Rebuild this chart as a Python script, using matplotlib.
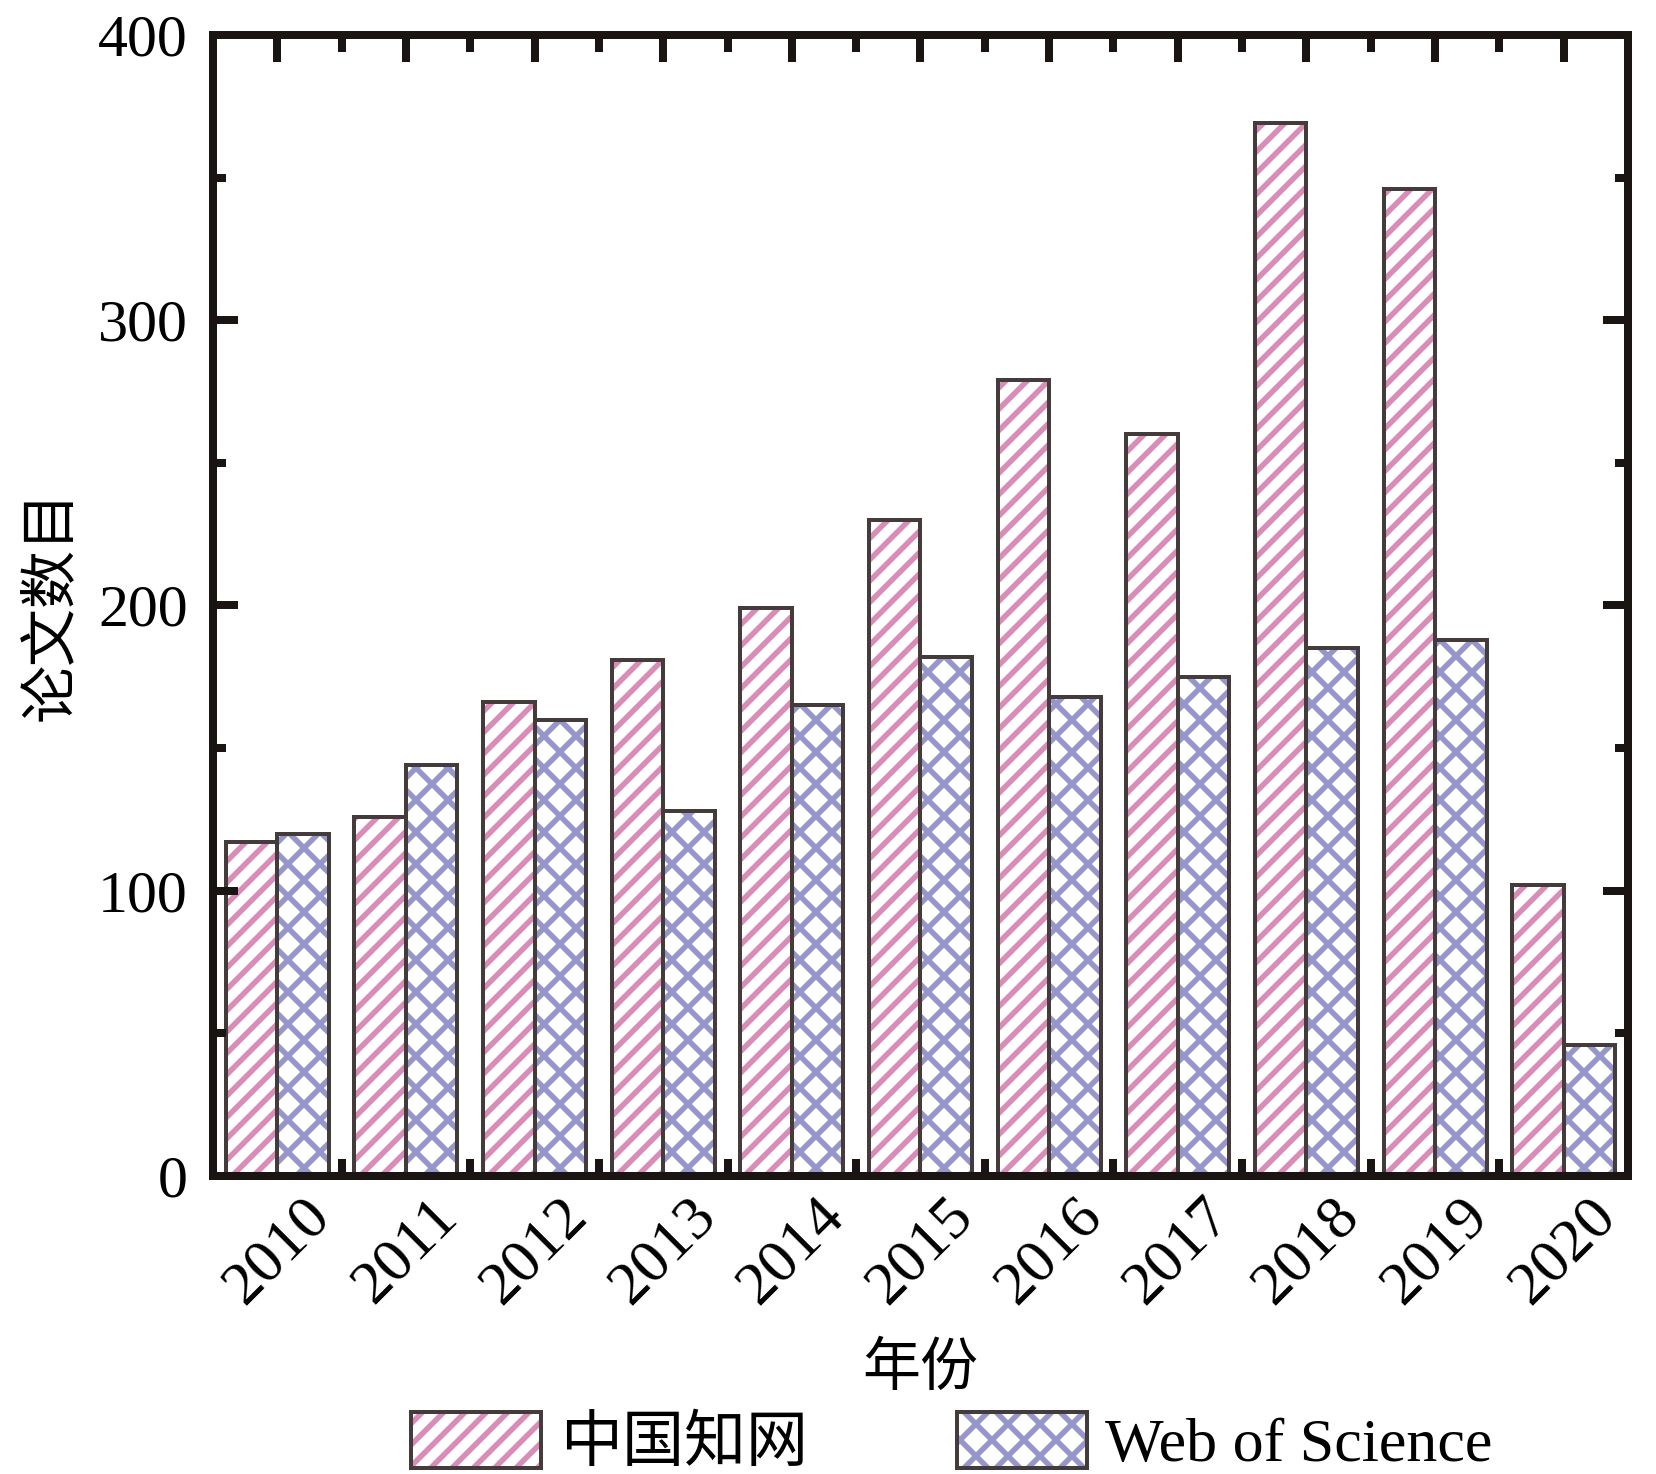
import matplotlib
matplotlib.use('Agg')
import matplotlib.pyplot as plt
import numpy as np
from matplotlib.ticker import FixedLocator, MultipleLocator

years = ['2010', '2011', '2012', '2013', '2014', '2015', '2016', '2017', '2018', '2019', '2020']
cnki = [117, 126, 166, 181, 199, 230, 279, 260, 369, 346, 102]
wos = [120, 144, 160, 128, 165, 182, 168, 175, 185, 188, 46]

serif = ['Liberation Serif', 'Noto Sans CJK SC']
cjk = ['Noto Sans CJK SC', 'DejaVu Sans']

# dpi chosen so the hatch unit (one inch) gives the reference stripe spacing
dpi = 192


def px(n):
    # pixels -> points
    return n * 72.0 / dpi


plt.rcParams['hatch.linewidth'] = px(5.5)

fig = plt.figure(figsize=(1656 / dpi, 1474 / dpi), dpi=dpi)
ax = fig.add_axes([0.1286, 0.2022, 0.8545, 0.7741])

x = np.arange(len(years))
w = 0.4
edge = '#443c3b'

# hatch layer + outline layer (hatch colour follows edgecolor)
p_fill = ax.bar(x - w/2, cnki, w, color='none', edgecolor='#d98cb6', hatch='///', linewidth=0)
p_edge = ax.bar(x - w/2, cnki, w, fill=False, edgecolor=edge, linewidth=px(4))
b_fill = ax.bar(x + w/2, wos, w, color='none', edgecolor='#9696ca', hatch='xx', linewidth=0)
b_edge = ax.bar(x + w/2, wos, w, fill=False, edgecolor=edge, linewidth=px(4))

ax.set_xlim(-0.5, 10.5)
ax.set_ylim(0, 400)

ax.set_xticks(x)
ax.set_xticklabels(years, rotation=45, family=serif, size=px(62))
ax.xaxis.set_minor_locator(FixedLocator(x[:-1] + 0.5))
ax.yaxis.set_major_locator(MultipleLocator(100))
ax.yaxis.set_minor_locator(MultipleLocator(50))
for lab in ax.get_yticklabels():
    lab.set_family(serif)
    lab.set_size(px(60))

spine_c = '#1a1512'
for s in ax.spines.values():
    s.set_linewidth(px(8))
    s.set_color(spine_c)

ax.tick_params(axis='x', which='major', direction='in', bottom=False, top=True,
               length=px(27), width=px(8), color=spine_c, pad=px(12))
ax.tick_params(axis='x', which='minor', direction='in', bottom=True, top=True,
               length=px(17), width=px(8), color=spine_c)
ax.tick_params(axis='y', which='major', direction='in', left=True, right=True,
               length=px(25), width=px(8), color=spine_c, pad=px(25))
ax.tick_params(axis='y', which='minor', direction='in', left=True, right=True,
               length=px(13), width=px(8), color=spine_c)

ax.set_ylabel('论文数目', family=cjk, size=px(58), va='center')
ax.yaxis.set_label_coords(-0.115, 0.5)
ax.set_xlabel('年份', family=cjk, size=px(58), va='center')
ax.xaxis.set_label_coords(0.5, -0.169)

fig.legend([(p_fill[0], p_edge[0]), (b_fill[0], b_edge[0])], ['中国知网', 'Web of Science'],
           loc='center left', bbox_to_anchor=(411 / 1656, 1 - 1443 / 1474), ncol=2,
           frameon=False, prop={'family': serif, 'size': px(62)},
           handlelength=2.1, handleheight=1.0, handletextpad=0.3, columnspacing=2.4,
           borderpad=0, borderaxespad=0)

fig.savefig('out.png', dpi=dpi)
